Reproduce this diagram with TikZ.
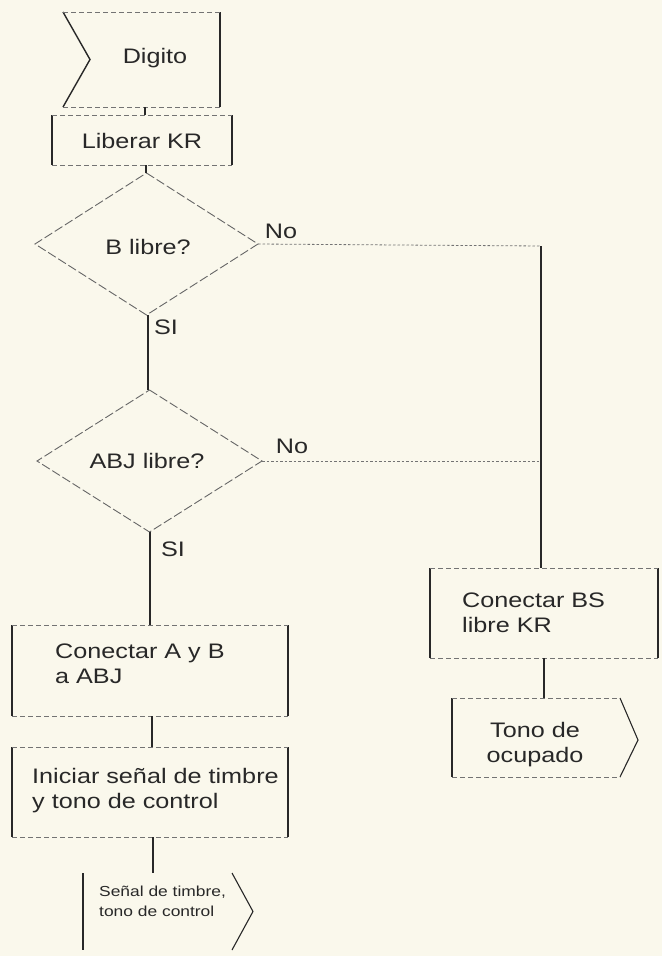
\documentclass[tikz,border=0pt]{standalone}
\usepackage{fontspec}
\setmainfont[FakeStretch=1.2]{Liberation Sans}
\usetikzlibrary{calc}
\definecolor{paper}{RGB}{250,248,236}
\definecolor{ink}{RGB}{40,40,40}
\tikzset{
  frame/.style={inner sep=0pt, outer sep=0pt},
  side/.style={draw=ink, line width=1.4pt},
  edge/.style={draw=black!55, line width=0.8pt, dash pattern=on 5pt off 3pt},
  dia/.style={draw=black!60, line width=0.9pt, dash pattern=on 9pt off 3pt},
  conn/.style={draw=ink, line width=1.4pt},
  nolink/.style={draw=black!55, line width=0.8pt, dash pattern=on 2.5pt off 2pt},
  txt/.style={inner sep=0pt, text=ink, font=\fontsize{21}{25}\selectfont},
  small/.style={inner sep=0pt, text=ink, font=\fontsize{14.5}{20}\selectfont},
}
\begin{document}
\begin{tikzpicture}[x=1pt, y=-1pt]
\fill[paper] (0,0) rectangle (662,956);
\useasboundingbox (0,0) rectangle (662,956);

% frames
\node[frame, minimum width=157pt, minimum height=95pt] (dig) at (141.5,59.5) {};
\node[frame, minimum width=180pt, minimum height=50pt] (lib) at (142,140) {};
\node[frame, minimum width=223pt, minimum height=142pt] (d1) at (146.5,244) {};
\node[frame, minimum width=225pt, minimum height=142pt] (d2) at (149.5,461) {};
\node[frame, minimum width=276pt, minimum height=91pt] (conAB) at (150,670.5) {};
\node[frame, minimum width=276pt, minimum height=90pt] (ini) at (150,792) {};
\node[frame, minimum width=149pt, minimum height=77pt] (sen) at (157.5,911.5) {};
\node[frame, minimum width=228pt, minimum height=90pt] (conBS) at (544,613) {};
\node[frame, minimum width=168pt, minimum height=79pt] (tono) at (536,737.5) {};
\coordinate (j1) at (541,246);
\coordinate (j2) at (541,461);

% Digito (input)
\draw[side] (dig.north west) -- ($(dig.west)+(27,0)$) -- (dig.south west);
\draw[side] (dig.north east) -- (dig.south east);
\draw[edge] (dig.north west) -- (dig.north east);
\draw[edge] (dig.south west) -- (dig.south east);

% Liberar KR
\draw[side] (lib.north west) -- (lib.south west);
\draw[side] (lib.north east) -- (lib.south east);
\draw[edge] (lib.north west) -- (lib.north east);
\draw[edge] (lib.south west) -- (lib.south east);

% diamonds
\draw[dia] (d1.north) -- (d1.east) -- (d1.south) -- (d1.west) -- cycle;
\draw[dia] (d2.north) -- (d2.east) -- (d2.south) -- (d2.west) -- cycle;

% Conectar A y B
\draw[side] (conAB.north west) -- (conAB.south west);
\draw[side] (conAB.north east) -- (conAB.south east);
\draw[edge] (conAB.north west) -- (conAB.north east);
\draw[edge] (conAB.south west) -- (conAB.south east);

% Iniciar
\draw[side] (ini.north west) -- (ini.south west);
\draw[side] (ini.north east) -- (ini.south east);
\draw[edge] (ini.north west) -- (ini.north east);
\draw[edge] (ini.south west) -- (ini.south east);

% Senal output
\draw[side] (sen.north west) -- (sen.south west);
\draw[side, line width=1.1pt] (sen.north east) -- ($(sen.east)+(21,0)$) -- (sen.south east);

% Conectar BS
\draw[side] (conBS.north west) -- (conBS.south west);
\draw[side] (conBS.north east) -- (conBS.south east);
\draw[edge] (conBS.north west) -- (conBS.north east);
\draw[edge] (conBS.south west) -- (conBS.south east);

% Tono de ocupado output
\draw[side] (tono.north west) -- (tono.south west);
\draw[side, line width=1.1pt] (tono.north east) -- ($(tono.east)+(18,2.5)$) -- (tono.south east);
\draw[edge] (tono.north west) -- (tono.north east);
\draw[edge] (tono.south west) -- (tono.south east);

% connectors
\draw[conn] (dig.south -| 145,0) -- (lib.north -| 145,0);
\draw[conn] (lib.south -| 146,0) -- (d1.north -| 146,0);
\draw[conn] (d1.south -| 148,0) -- (d2.north -| 148,0);
\draw[conn] (d2.south -| 150,0) -- (conAB.north -| 150,0);
\draw[conn] (conAB.south -| 152,0) -- (ini.north -| 152,0);
\draw[conn] (ini.south -| 153,0) -- (sen.north -| 153,0);
\draw[nolink] (d1.east) -- (j1);
\draw[nolink] (d2.east) -- (j2);
\draw[conn] (j1) -- (j1 |- conBS.north);
\draw[conn] (conBS.south -| 544,0) -- (tono.north -| 544,0);

% texts
\node[txt] (digT) at (155,58) {Digito};
\node[txt] (libT) at (142,141) {Liberar KR};
\node[txt] (d1T) at (148,247) {B libre?};
\node[txt] (d2T) at (147,461) {ABJ libre?};
\node[txt] (no1) at (281,231) {No};
\node[txt] (no2) at (292,446) {No};
\node[txt] (si1) at (166,327) {SI};
\node[txt] (si2) at (173,549) {SI};
\node[txt, anchor=west, align=left] (conABT) at (55,664) {Conectar A y B\\a ABJ};
\node[txt, anchor=west, align=left] (iniT) at (32,791) {Iniciar señal de timbre\\y tono de control};
\node[small, anchor=west, align=left] (senT) at (99,901) {Señal de timbre,\\tono de control};
\node[txt, anchor=west, align=left] (conBST) at (462,613) {Conectar BS\\libre KR};
\node[txt, align=center] (tonoT) at (535,745) {Tono de\\ocupado};
\end{tikzpicture}
\end{document}
